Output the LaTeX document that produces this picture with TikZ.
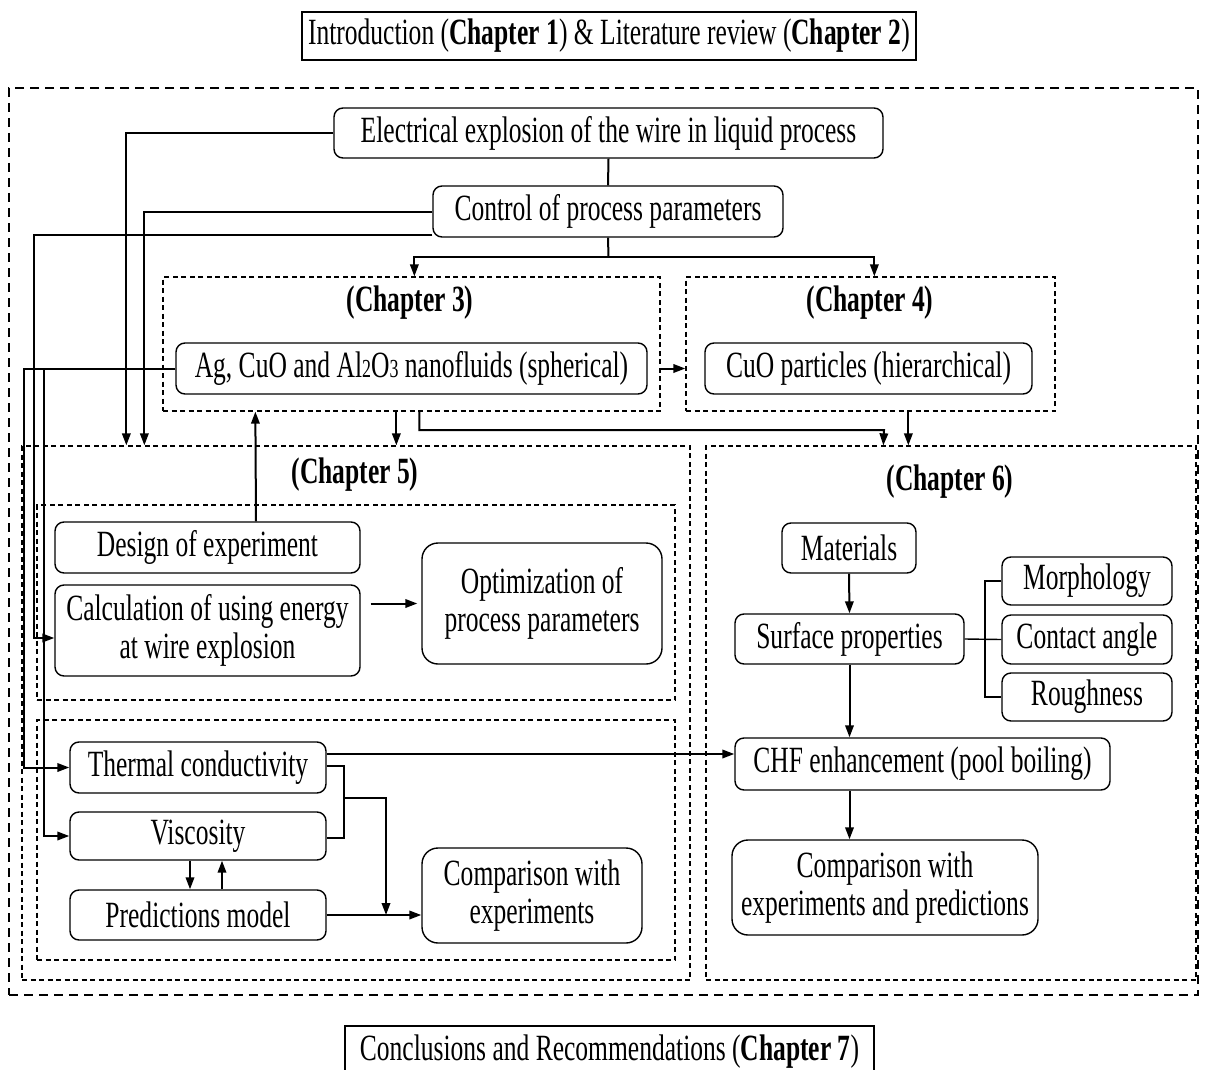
\documentclass[tikz,border=0pt]{standalone}
\usepackage{fontspec}
\setmainfont{Liberation Serif}[FakeStretch=0.69]
\usetikzlibrary{arrows.meta,calc}
\begin{document}
\begin{tikzpicture}[x=1pt,y=-1pt,
  every node/.style={font=\fontsize{37}{38}\selectfont},
  box/.style={draw, rounded corners=9pt, line width=1.4pt, inner sep=0pt, align=center},
  frame/.style={draw, line width=1.3pt, dash pattern=on 5pt off 3.5pt, inner sep=0pt},
  conn/.style={line width=2pt},
  arr/.style={conn, -{Triangle[length=12pt,width=8.5pt]}},
  thinl/.style={line width=1.4pt},
  lbl/.style={font=\fontsize{37}{38}\selectfont\bfseries}
]
\useasboundingbox (0,0) rectangle (1210,1070);

% title boxes
\node[draw, line width=2pt, minimum width=614pt, minimum height=48pt, inner sep=0pt] (title) at (609,36)
  {Introduction (\textbf{Chapter 1}) \& Literature review (\textbf{Chapter 2})};
\node[draw, line width=2pt, minimum width=529pt, minimum height=52pt, inner sep=0pt, anchor=north] (concl) at (609.5,1025)
  {Conclusions and Recommendations (\textbf{Chapter 7})};

% outer frame
\node[draw, line width=1.9pt, dash pattern=on 9pt off 6pt, minimum width=1189pt, minimum height=907pt, inner sep=0pt] (outer) at (603.5,541.5) {};

% dashed chapter frames
\node[frame, minimum width=497pt, minimum height=134pt] (ch3) at (411.5,344) {};
\node[frame, minimum width=369pt, minimum height=134pt] (ch4) at (870.5,344) {};
\node[frame, minimum width=668pt, minimum height=534pt] (ch5) at (356,713) {};
\node[frame, minimum width=490pt, minimum height=534pt] (ch6) at (951,713) {};
\node[frame, minimum width=638pt, minimum height=195pt] (in5a) at (356,602.5) {};
\node[frame, minimum width=638pt, minimum height=240pt] (in5b) at (356,840) {};

% chapter labels
\node[lbl] (l3) at (410,303) {(Chapter 3)};
\node[lbl] (l4) at (870,303) {(Chapter 4)};
\node[lbl] (l5) at (355,475) {(Chapter 5)};
\node[lbl] (l6) at (950,482) {(Chapter 6)};

% boxes
\node[box, minimum width=549pt, minimum height=50pt] (elec) at (608.5,133) {Electrical explosion of the wire in liquid process};
\node[box, minimum width=350pt, minimum height=51pt] (ctrl) at (608,211.5) {Control of process parameters};
\node[box, minimum width=471pt, minimum height=51pt] (ag) at (411.5,368.5) {Ag, CuO and Al{\fontsize{26}{26}\selectfont 2}O{\fontsize{26}{26}\selectfont 3} nanofluids (spherical)};
\node[box, minimum width=327pt, minimum height=51pt] (cuo) at (868.5,368.5) {CuO particles (hierarchical)};

\node[box, minimum width=305pt, minimum height=51pt] (design) at (207.5,547.5) {Design of experiment};
\node[box, minimum width=305pt, minimum height=91pt] (calc) at (207.5,630.5) {Calculation of using energy\\at wire explosion};
\node[box, rounded corners=16pt, minimum width=240pt, minimum height=121pt] (optim) at (542,603.5) {Optimization of\\process parameters};

\node[box, minimum width=256pt, minimum height=51pt] (thermal) at (198,767.5) {Thermal conductivity};
\node[box, minimum width=256pt, minimum height=48pt] (visc) at (198,836) {Viscosity};
\node[box, minimum width=256pt, minimum height=50pt] (pred) at (198,915) {Predictions model};
\node[box, rounded corners=16pt, minimum width=220pt, minimum height=95pt] (comp5) at (532,895.5) {Comparison with\\experiments};

\node[box, minimum width=134pt, minimum height=50pt] (mat) at (849,548) {Materials};
\node[box, minimum width=229pt, minimum height=50pt] (surf) at (849.5,639) {Surface properties};
\node[box, minimum width=170pt, minimum height=48pt] (morph) at (1087,581) {Morphology};
\node[box, minimum width=170pt, minimum height=49pt] (contact) at (1087,639.5) {Contact angle};
\node[box, minimum width=170pt, minimum height=48pt] (rough) at (1087,697) {Roughness};
\node[box, minimum width=375pt, minimum height=52pt] (chf) at (922.5,764) {CHF enhancement (pool boiling)};
\node[box, rounded corners=16pt, minimum width=306pt, minimum height=95pt] (comp6) at (885,887.5) {Comparison with\\experiments and predictions};

% connectors: top part
\draw[arr] (elec.west) -| ([xshift=105pt]ch5.north west);
\draw[arr] (ctrl.west) -| ([xshift=123pt]ch5.north west);
\draw[arr] ([yshift=3pt]ctrl.south west) -| (34,638) -- ([yshift=-7.5pt]calc.west);
\draw[conn] (elec.south) -- (ctrl.north);
\coordinate (split) at (608.5,257);
\draw[conn] (ctrl.south) -- (split);
\draw[arr] (split) -| ([xshift=252pt]ch3.north west);
\draw[arr] (split) -| ([xshift=189pt]ch4.north west);
\draw[arr] (ch3.east |- ag.center) -- (ch4.west |- ag.center);

% from Ag box to chapter 5 items
\draw[arr] (ag.west) -| ([xshift=-45pt]thermal.west) -- (thermal.west);
\draw[arr] (ag.west) -| ([xshift=-25pt]visc.west) -- (visc.west);

% chapter 3/4 to 5/6
\draw[arr] ([xshift=234pt]ch3.south west) -- ([xshift=375pt]ch5.north west);
\draw[arr] ([xshift=257pt]ch3.south west) |- (884,430) -- ([xshift=178pt]ch6.north west);
\draw[arr] ([xshift=223pt]ch4.south west) -- ([xshift=203pt]ch6.north west);
\draw[arr] ([xshift=48.5pt]design.north) -- ([xshift=93pt]ch3.south west);

% chapter 5 internals
\coordinate (c1) at ([xshift=10pt]calc.east);
\coordinate (c2) at ([xshift=-4pt]optim.west);
\draw[arr] (c1 |- c2) -- (c2);
\draw[arr] ([yshift=13.5pt]thermal.east) -- ([yshift=10pt]chf.west);
\draw[conn] ([yshift=1.5pt]thermal.east) -| (344,838) -- ([yshift=-2pt]visc.east);
\coordinate (j1) at (344,798);
\coordinate (j2) at (386,915);
\draw[arr] (j1) -| (j2);
\draw[arr] (pred.east) -- (comp5.west |- pred.east);
\draw[arr] ([xshift=-8pt]visc.south) -- ([xshift=-8pt]pred.north);
\draw[arr] ([xshift=24pt]pred.north) -- ([xshift=24pt]visc.south);

% chapter 6 internals
\draw[arr] (mat.south) -- (surf.north);
\draw[arr] (surf.south) -- (surf.south |- chf.north);
\draw[arr] (surf.south |- chf.south) -- (surf.south |- comp6.north);
\coordinate (bk) at (985,639);
\draw[thinl] (surf.east) -- (contact.west);
\draw[thinl] (morph.west) -- (morph.west -| bk) -- (rough.west -| bk) -- (rough.west);
\end{tikzpicture}
\end{document}
